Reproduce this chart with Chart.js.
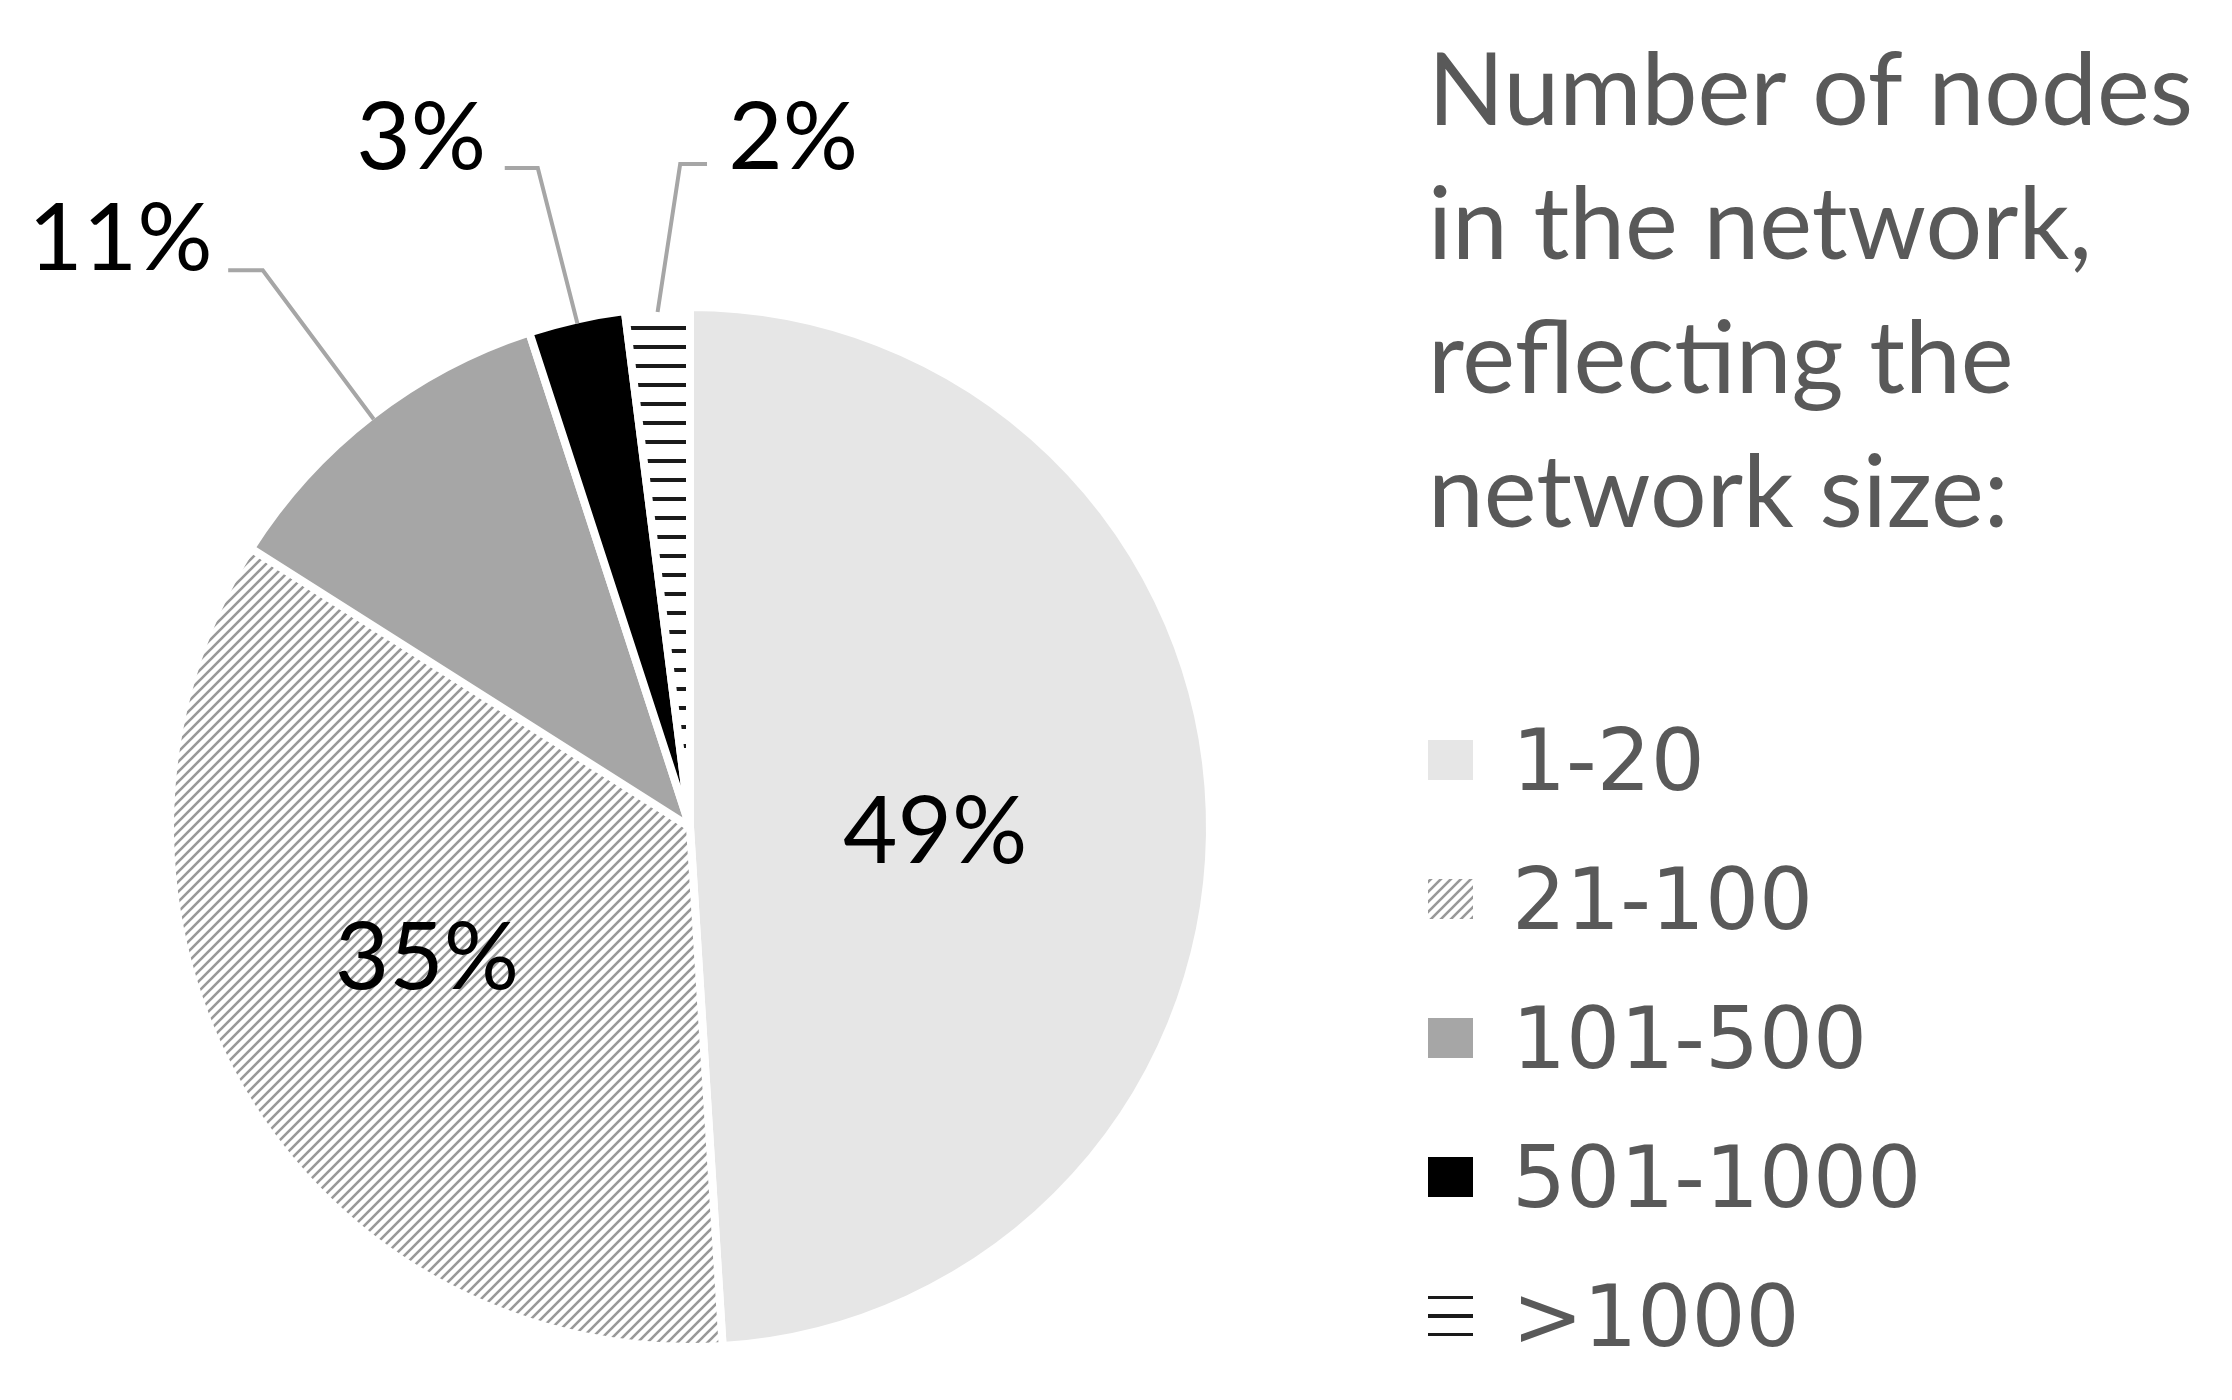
<!DOCTYPE html>
<html>
<head>
<meta charset="utf-8">
<script src="https://cdn.jsdelivr.net/npm/chart.js@4.4.1/dist/chart.umd.min.js"></script>
<style>
  html, body { margin: 0; padding: 0; background: #fff; }
  #wrap { width: 2232px; height: 1400px; position: relative; }
</style>
</head>
<body>
<div id="wrap"><canvas id="pieChart"></canvas></div>
<script>
// data
const categories = ['1-20', '21-100', '101-500', '501-1000', '>1000'];
const shares = [49, 35, 11, 3, 2];
const legendTitle = ['Number of nodes', 'in the network,', 'reflecting the', 'network size:'];

// label placement, in units of the pie radius, relative to the centre
const labelLayout = [
    { inside: true, at: [0.475, 0.004] },
    { inside: true, at: [-0.51, 0.248] },
    { inside: false, at: [-0.925, -1.145], align: 'right', lineStart: [-0.895, -1.079], elbow: [-0.828, -1.079] },
    { inside: false, at: [-0.521, -1.341], align: 'center', lineStart: [-0.359, -1.277], elbow: [-0.295, -1.277] },
    { inside: false, at: [0.200, -1.341], align: 'center', lineStart: [0.033, -1.285], elbow: [-0.019, -1.285] }
];

const BORDER = 8;

function diagonalPattern() {
    const c = document.createElement('canvas');
    c.width = 10; c.height = 10;
    const g = c.getContext('2d');
    g.fillStyle = '#ffffff';
    g.fillRect(0, 0, 10, 10);
    g.strokeStyle = '#999999';
    g.lineWidth = 2.6;
    g.beginPath();
    g.moveTo(-2, 12); g.lineTo(12, -2);
    g.moveTo(-2, 2); g.lineTo(2, -2);
    g.moveTo(8, 12); g.lineTo(12, 8);
    g.stroke();
    return g.createPattern(c, 'repeat');
}

function stripePattern() {
    const c = document.createElement('canvas');
    c.width = 10; c.height = 19;
    const g = c.getContext('2d');
    g.fillStyle = '#ffffff';
    g.fillRect(0, 0, 10, 19);
    g.fillStyle = '#1a1a1a';
    g.fillRect(0, 3, 10, 4);
    return g.createPattern(c, 'repeat');
}

const fills = ['#e6e6e6', diagonalPattern(), '#a6a6a6', '#000000', stripePattern()];

// percent labels with leader lines
const pieLabels = {
    id: 'pieLabels',
    afterDatasetsDraw(chart) {
        const ctx = chart.ctx;
        const meta = chart.getDatasetMeta(0);
        const size = 94;
        ctx.save();
        ctx.font = size + 'px Lato, "Open Sans", sans-serif';
        ctx.textBaseline = 'alphabetic';
        meta.data.forEach(function(arc, i) {
            const p = arc.getProps(['x', 'y', 'startAngle', 'endAngle', 'outerRadius'], true);
            const r = p.outerRadius - BORDER / 2;
            const lay = labelLayout[i];
            const text = shares[i] + '%';
            const tx = p.x + lay.at[0] * r;
            const ty = p.y + lay.at[1] * r + size * 0.36;
            if (!lay.inside) {
                const mid = (p.startAngle + p.endAngle) / 2;
                ctx.strokeStyle = '#a6a6a6';
                ctx.lineWidth = 4;
                ctx.beginPath();
                ctx.moveTo(p.x + lay.lineStart[0] * r, p.y + lay.lineStart[1] * r);
                ctx.lineTo(p.x + lay.elbow[0] * r, p.y + lay.elbow[1] * r);
                ctx.lineTo(p.x + Math.cos(mid) * r, p.y + Math.sin(mid) * r);
                ctx.stroke();
            }
            ctx.fillStyle = '#000000';
            ctx.textAlign = lay.inside ? 'center' : lay.align;
            ctx.fillText(text, tx, ty);
        });
        ctx.restore();
    }
};

// legend on the right with a multi-line title
const sideLegend = {
    id: 'sideLegend',
    afterDraw(chart) {
        const ctx = chart.ctx;
        const left = 1428;
        ctx.save();
        ctx.fillStyle = '#595959';
        ctx.textAlign = 'left';
        ctx.textBaseline = 'alphabetic';
        ctx.font = '100px Lato, "Open Sans", sans-serif';
        legendTitle.forEach(function(line, i) {
            ctx.fillText(line, left, 125 + i * 134);
        });
        ctx.font = '85px "DejaVu Sans", sans-serif';
        const colors = chart.data.datasets[0].backgroundColor;
        chart.data.labels.forEach(function(label, i) {
            const base = 790 + i * 139;
            ctx.fillStyle = colors[i];
            ctx.fillRect(left, base - 50, 45, 40);
            ctx.fillStyle = '#595959';
            ctx.fillText(label, 1512, base);
        });
        ctx.restore();
    }
};

const ctx = document.getElementById('pieChart').getContext('2d');
new Chart(ctx, {
    type: 'pie',
    data: {
        labels: categories,
        datasets: [{
            data: shares,
            backgroundColor: fills,
            borderColor: '#ffffff',
            borderWidth: BORDER
        }]
    },
    options: {
        responsive: true,
        maintainAspectRatio: false,
        animation: false,
        radius: 516 + BORDER / 2,
        layout: { padding: { left: 0, right: 852, top: 254, bottom: 0 } },
        plugins: {
            legend: { display: false },
            tooltip: { enabled: false }
        }
    },
    plugins: [pieLabels, sideLegend]
});
</script>
</body>
</html>
